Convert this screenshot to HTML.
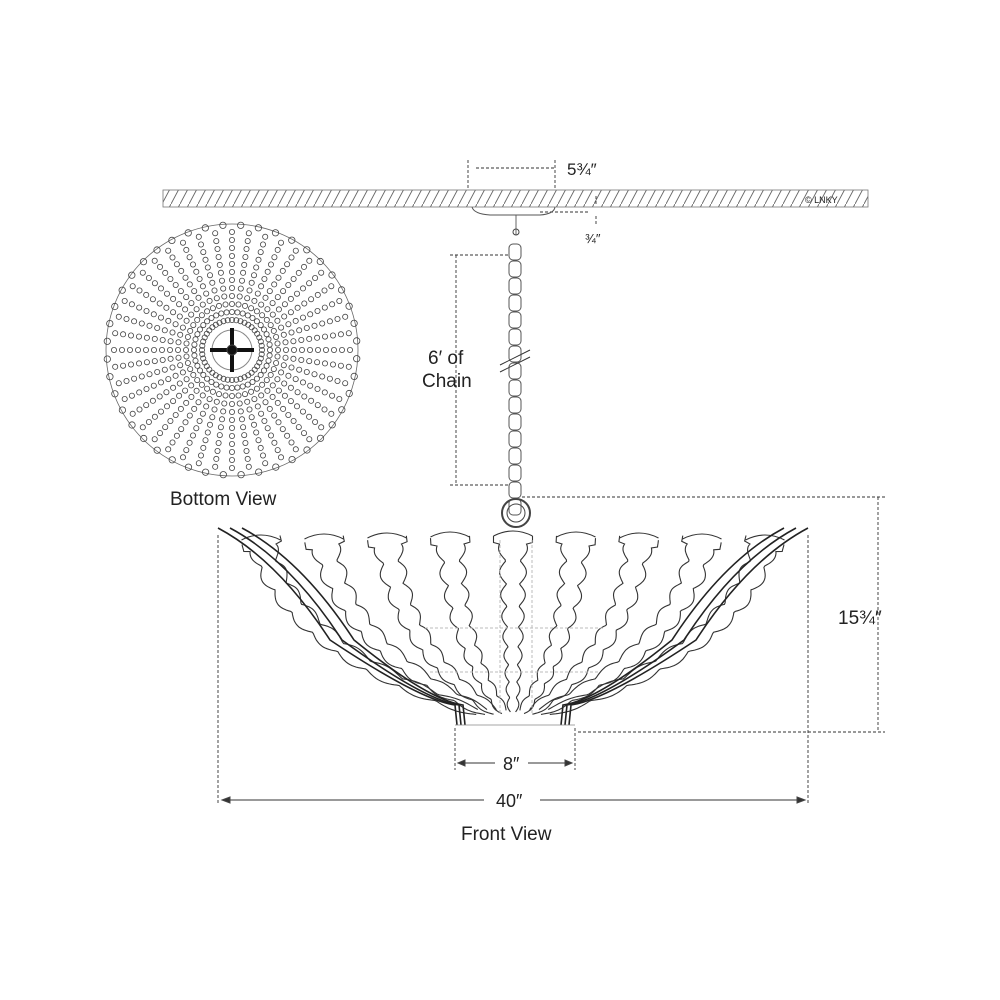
<!DOCTYPE html>
<html><head><meta charset="utf-8"><style>
html,body{margin:0;padding:0;background:#fff;width:1000px;height:1000px;overflow:hidden}
svg{display:block}
text{font-family:"Liberation Sans",sans-serif;fill:#222}
</style></head><body>
<svg id="s" width="1000" height="1000" viewBox="0 0 1000 1000" xmlns="http://www.w3.org/2000/svg">
<defs>
<pattern id="h" width="9" height="17" patternUnits="userSpaceOnUse">
<line x1="0" y1="17" x2="9" y2="0" stroke="#666" stroke-width="0.9"/>
</pattern>
</defs>
<rect x="163" y="190" width="705" height="17" fill="url(#h)" stroke="#777" stroke-width="0.8"/>
<text x="805" y="203" font-size="9" fill="#999">© LNKY</text>
<g id="g" fill="none" stroke="#444" stroke-width="1"></g>
<text x="567" y="175" font-size="17">5¾″</text>
<text x="585" y="243" font-size="13">¾″</text>
<text x="428" y="364" font-size="19">6′ of</text>
<text x="422" y="387" font-size="19">Chain</text>
<text x="170" y="505" font-size="19">Bottom View</text>
<text x="838" y="624" font-size="19">15¾″</text>
<text x="503" y="770" font-size="18">8″</text>
<text x="496" y="807" font-size="18">40″</text>
<text x="461" y="840" font-size="19">Front View</text>
</svg>
<script>
var g=document.getElementById('g'),NS='http://www.w3.org/2000/svg';
function el(t,a){var e=document.createElementNS(NS,t);for(var k in a)e.setAttribute(k,a[k]);g.appendChild(e);return e;}
function ln(x1,y1,x2,y2,d,c){el('line',{x1:x1,y1:y1,x2:x2,y2:y2,stroke:c||'#333','stroke-dasharray':d||'','stroke-width':0.9});}
ln(468,160,468,190,'3,2');ln(555,160,555,190,'3,2');ln(476,168,555,168,'3,2');
ln(540,212,590,212,'3,2');ln(596,196,596,206,'3,2');ln(596,216,596,225,'3,2');
el('path',{d:'M472 207 Q474 214 490 215 L540 215 Q554 214 555 207',stroke:'#555'});
ln(516,215,516,235,'', '#555');el('circle',{cx:516,cy:232,r:3});
for(var y=244;y<500;y+=17){el('rect',{x:509,y:y,width:12,height:16,rx:4,stroke:'#555'});}
el('path',{d:'M500 365 L530 350 M500 372 L530 357',stroke:'#333'});
ln(450,255,510,255,'3,2');ln(450,485,510,485,'3,2');ln(456,255,456,485,'3,2');
el('circle',{cx:516,cy:513,r:14,'stroke-width':2});el('circle',{cx:516,cy:513,r:9});
// bottom view
var cx=232,cy=350,R=128;
el('circle',{cx:cx,cy:cy,r:R-2,stroke:'#666','stroke-width':0.8});
for(var i=0;i<44;i++){var a=i/44*2*Math.PI;
 for(var r=30;r<R-6;r+=8){var x=cx+r*Math.cos(a),y=cy+r*Math.sin(a);el('circle',{cx:x.toFixed(1),cy:y.toFixed(1),r:2.6,'stroke-width':0.8});}
 var x1=cx+(R-3)*Math.cos(a+0.07),y1=cy+(R-3)*Math.sin(a+0.07);el('circle',{cx:x1.toFixed(1),cy:y1.toFixed(1),r:3.2,'stroke-width':0.8});}
el('circle',{cx:cx,cy:cy,r:20,stroke:'#888'});
el('path',{d:'M232 328 L232 372 M210 350 L254 350',stroke:'#111','stroke-width':4});
el('circle',{cx:cx,cy:cy,r:5,fill:'#111'});
// front ribs
function rib(xt,yt,xb,yb,cxp,cyp,hw){
 var L=[],Rr=[],n=140;
 for(var k=0;k<=n;k++){var u=k/n;
  var x=(1-u)*(1-u)*xt+2*u*(1-u)*cxp+u*u*xb,y=(1-u)*(1-u)*yt+2*u*(1-u)*cyp+u*u*yb;
  var dx=2*(1-u)*(cxp-xt)+2*u*(xb-cxp),dy=2*(1-u)*(cyp-yt)+2*u*(yb-cyp);var d=Math.hypot(dx,dy);var nx=-dy/d,ny=dx/d;
  var lobes=9;var f=(u*lobes)%1;var w=hw*(1-0.65*u)*(0.5+0.5*Math.sin(Math.PI*f));
  if(u<0.03)w=hw*1.3;
  L.push((x-nx*w).toFixed(1)+','+(y-ny*w).toFixed(1));Rr.push((x+nx*w).toFixed(1)+','+(y+ny*w).toFixed(1));}
 el('polyline',{points:L.join(' '),'stroke-width':1.1,stroke:'#333'});el('polyline',{points:Rr.join(' '),'stroke-width':1.1,stroke:'#333'});
 // top cap
 el('path',{d:'M'+(xt-hw*1.3)+' '+yt+' Q'+xt+' '+(yt-10)+' '+(xt+hw*1.3)+' '+yt,'stroke-width':1.1,stroke:'#333'});
}
for(var k=-4;k<=4;k++){var xt=513+k*63;var xb=513+k*9;var yt=536+Math.abs(k)*1;
 rib(xt,yt,xb,712,xt+(xb-xt)*0.12,650,15);}
// outer flowing edges
[[218,0],[230,4],[242,8]].forEach(function(p){
 el('path',{d:'M'+p[0]+' 528 Q'+(p[0]+60)+' 560 '+(330+p[1]*3)+' 640 Q'+(420+p[1])+' 700 '+(455+p[1])+' 705 L'+(457+p[1])+' 725',stroke:'#222','stroke-width':1.6});
 var q=1026-p[0];
 el('path',{d:'M'+q+' 528 Q'+(q-60)+' 560 '+(696-p[1]*3)+' 640 Q'+(606-p[1])+' 700 '+(571-p[1])+' 705 L'+(569-p[1])+' 725',stroke:'#222','stroke-width':1.6});});
el('path',{d:'M455 725 L575 725','stroke-width':0.8,stroke:'#888'});
el('path',{d:'M425 628 L605 628 M430 672 L600 672 M500 540 L500 715 M532 540 L532 715',stroke:'#bbb','stroke-dasharray':'3,2'});
// dims
ln(522,497,885,497,'3,2');ln(578,732,885,732,'3,2');ln(878,497,878,732,'3,2');
ln(218,535,218,805,'3,2');ln(808,535,808,805,'3,2');ln(222,800,484,800);ln(540,800,805,800);
el('path',{d:'M222 800 l8 -3 v6z',fill:'#333'});el('path',{d:'M805 800 l-8 -3 v6z',fill:'#333'});
ln(455,728,455,770,'3,2');ln(575,728,575,770,'3,2');ln(458,763,495,763);ln(528,763,572,763);
el('path',{d:'M458 763 l7 -3 v6z',fill:'#333'});el('path',{d:'M572 763 l-7 -3 v6z',fill:'#333'});
</script>
</body></html>
